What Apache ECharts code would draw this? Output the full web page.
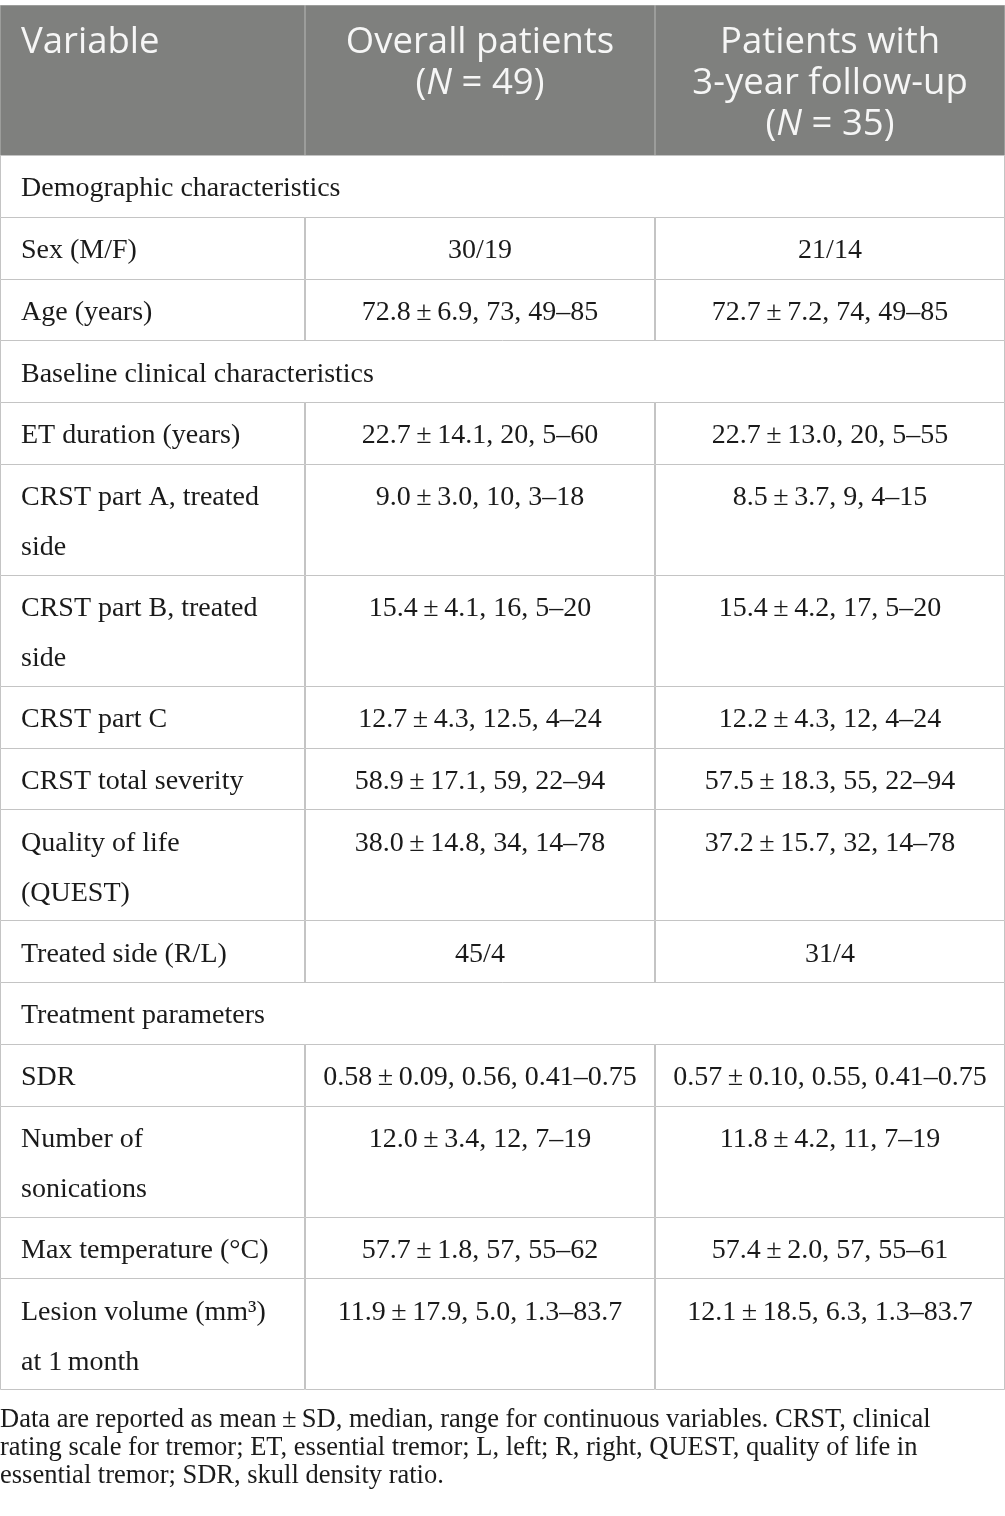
<!DOCTYPE html>
<html>
<head>
<meta charset="utf-8">
<script src="https://cdn.jsdelivr.net/npm/echarts@6/dist/echarts.min.js"></script>
<style>
  html, body { margin: 0; padding: 0; background: #fff; }
  #table { width: 1005px; height: 1516px; }
</style>
</head>
<body>
<div id="table"></div>
<script>
var PM = '\u2009±\u2009';

var headers = ['Variable', 'Overall patients\n({i|N} = 49)', 'Patients with\n3-year follow-up\n({i|N} = 35)'];

var variables = [
    'Demographic characteristics',
    'Sex (M/F)',
    'Age (years)',
    'Baseline clinical characteristics',
    'ET duration (years)',
    'CRST part A, treated\nside',
    'CRST part B, treated\nside',
    'CRST part C',
    'CRST total severity',
    'Quality of life\n(QUEST)',
    'Treated side (R/L)',
    'Treatment parameters',
    'SDR',
    'Number of\nsonications',
    'Max temperature (°C)',
    'Lesion volume (mm³)\nat 1\u2009month'
];

var overall = [
    '',
    '30/19',
    '72.8' + PM + '6.9, 73, 49–85',
    '',
    '22.7' + PM + '14.1, 20, 5–60',
    '9.0' + PM + '3.0, 10, 3–18',
    '15.4' + PM + '4.1, 16, 5–20',
    '12.7' + PM + '4.3, 12.5, 4–24',
    '58.9' + PM + '17.1, 59, 22–94',
    '38.0' + PM + '14.8, 34, 14–78',
    '45/4',
    '',
    '0.58' + PM + '0.09, 0.56, 0.41–0.75',
    '12.0' + PM + '3.4, 12, 7–19',
    '57.7' + PM + '1.8, 57, 55–62',
    '11.9' + PM + '17.9, 5.0, 1.3–83.7'
];

var followUp = [
    '',
    '21/14',
    '72.7' + PM + '7.2, 74, 49–85',
    '',
    '22.7' + PM + '13.0, 20, 5–55',
    '8.5' + PM + '3.7, 9, 4–15',
    '15.4' + PM + '4.2, 17, 5–20',
    '12.2' + PM + '4.3, 12, 4–24',
    '57.5' + PM + '18.3, 55, 22–94',
    '37.2' + PM + '15.7, 32, 14–78',
    '31/4',
    '',
    '0.57' + PM + '0.10, 0.55, 0.41–0.75',
    '11.8' + PM + '4.2, 11, 7–19',
    '57.4' + PM + '2.0, 57, 55–61',
    '12.1' + PM + '18.5, 6.3, 1.3–83.7'
];

var sectionRows = [0, 3, 11];

var footnote = 'Data are reported as mean\u2009±\u2009SD, median, range for continuous variables. CRST, clinical\n' +
    'rating scale for tremor; ET, essential tremor; L, left; R, right, QUEST, quality of life in\n' +
    'essential tremor; SDR, skull density ratio.';

// layout
var colEdges = [0, 305, 655, 1005];
var headerHeight = 150;
var rowBase = 61.75;
var extraLine = 49.25;
var serif = '"Liberation Serif", "DejaVu Serif", serif';
var sans = '"Open Sans", Lato, sans-serif';
var bodyFont = '28px ' + serif;
var headFont = '36.5px ' + sans;

// rows: [kind, index, y0, y1]  kind 0 = header, 1 = section, 2 = data
var rows = [[0, -1, 0, headerHeight]];
var yPos = headerHeight;
variables.forEach(function (v, i) {
    var h = rowBase + extraLine * (v.split('\n').length - 1);
    rows.push([sectionRows.indexOf(i) >= 0 ? 1 : 2, i, yPos, yPos + h]);
    yPos += h;
});
var tableHeight = yPos;

var chart = echarts.init(document.getElementById('table'), null, {renderer: 'canvas'});

var renderRow = function (params, api) {
    var kind = api.value(0);
    var idx = api.value(1);
    var top = api.coord([0, api.value(2)])[1];
    var bottom = api.coord([0, api.value(3)])[1];
    var xs = colEdges.map(function (x) { return api.coord([x, 0])[0]; });
    var children = [];
    var cell = function (x0, x1, fill, stroke) {
        children.push({
            type: 'rect',
            shape: {x: Math.round(x0) + 0.5, y: Math.round(top) + 0.5, width: Math.round(x1 - x0) - 1, height: Math.round(bottom - top)},
            style: {fill: fill, stroke: stroke, lineWidth: 1}
        });
    };
    var label = function (x, text, align, font, color, lh, dy) {
        children.push({
            type: 'text',
            x: x,
            y: top + dy,
            style: {
                text: text,
                font: font,
                fill: color,
                align: align,
                verticalAlign: 'top',
                lineHeight: lh,
                rich: {
                    i: {fontFamily: sans, fontSize: 36.5, fontStyle: 'italic', fill: color, lineHeight: lh}
                }
            }
        });
    };
    if (kind === 0) {
        for (var c = 0; c < 3; c++) {
            cell(xs[c], xs[c + 1], '#7f807e', '#9c9d9b');
        }
        label(xs[0] + 21, headers[0], 'left', headFont, '#f6f6f6', 41, 17);
        label((xs[1] + xs[2]) / 2, headers[1], 'center', headFont, '#f6f6f6', 41, 17);
        label((xs[2] + xs[3]) / 2, headers[2], 'center', headFont, '#f6f6f6', 41, 17);
    } else if (kind === 1) {
        cell(xs[0], xs[3], '#fff', '#c4c4c4');
        label(xs[0] + 21, variables[idx], 'left', bodyFont, '#1a1a1a', 50, 9);
    } else {
        for (var k = 0; k < 3; k++) {
            cell(xs[k], xs[k + 1], '#fff', '#c4c4c4');
        }
        label(xs[0] + 21, variables[idx], 'left', bodyFont, '#1a1a1a', 50, 9);
        label((xs[1] + xs[2]) / 2, overall[idx], 'center', bodyFont, '#1a1a1a', 50, 9);
        label((xs[2] + xs[3]) / 2, followUp[idx], 'center', bodyFont, '#1a1a1a', 50, 9);
    }
    return {type: 'group', children: children};
};

var option = {
    animation: false,
    grid: {left: 0, top: 5, width: 1005, height: tableHeight},
    xAxis: {type: 'value', min: 0, max: 1005, show: false},
    yAxis: {type: 'value', min: 0, max: tableHeight, inverse: true, show: false},
    graphic: [{
        type: 'text',
        left: 0,
        top: 1406,
        style: {
            text: footnote,
            font: '26.5px ' + serif,
            fill: '#1a1a1a',
            lineHeight: 28
        }
    }],
    series: [{
        type: 'custom',
        renderItem: renderRow,
        clip: false,
        encode: {x: [], y: [2, 3]},
        data: rows
    }]
};

chart.setOption(option);
</script>
</body>
</html>
